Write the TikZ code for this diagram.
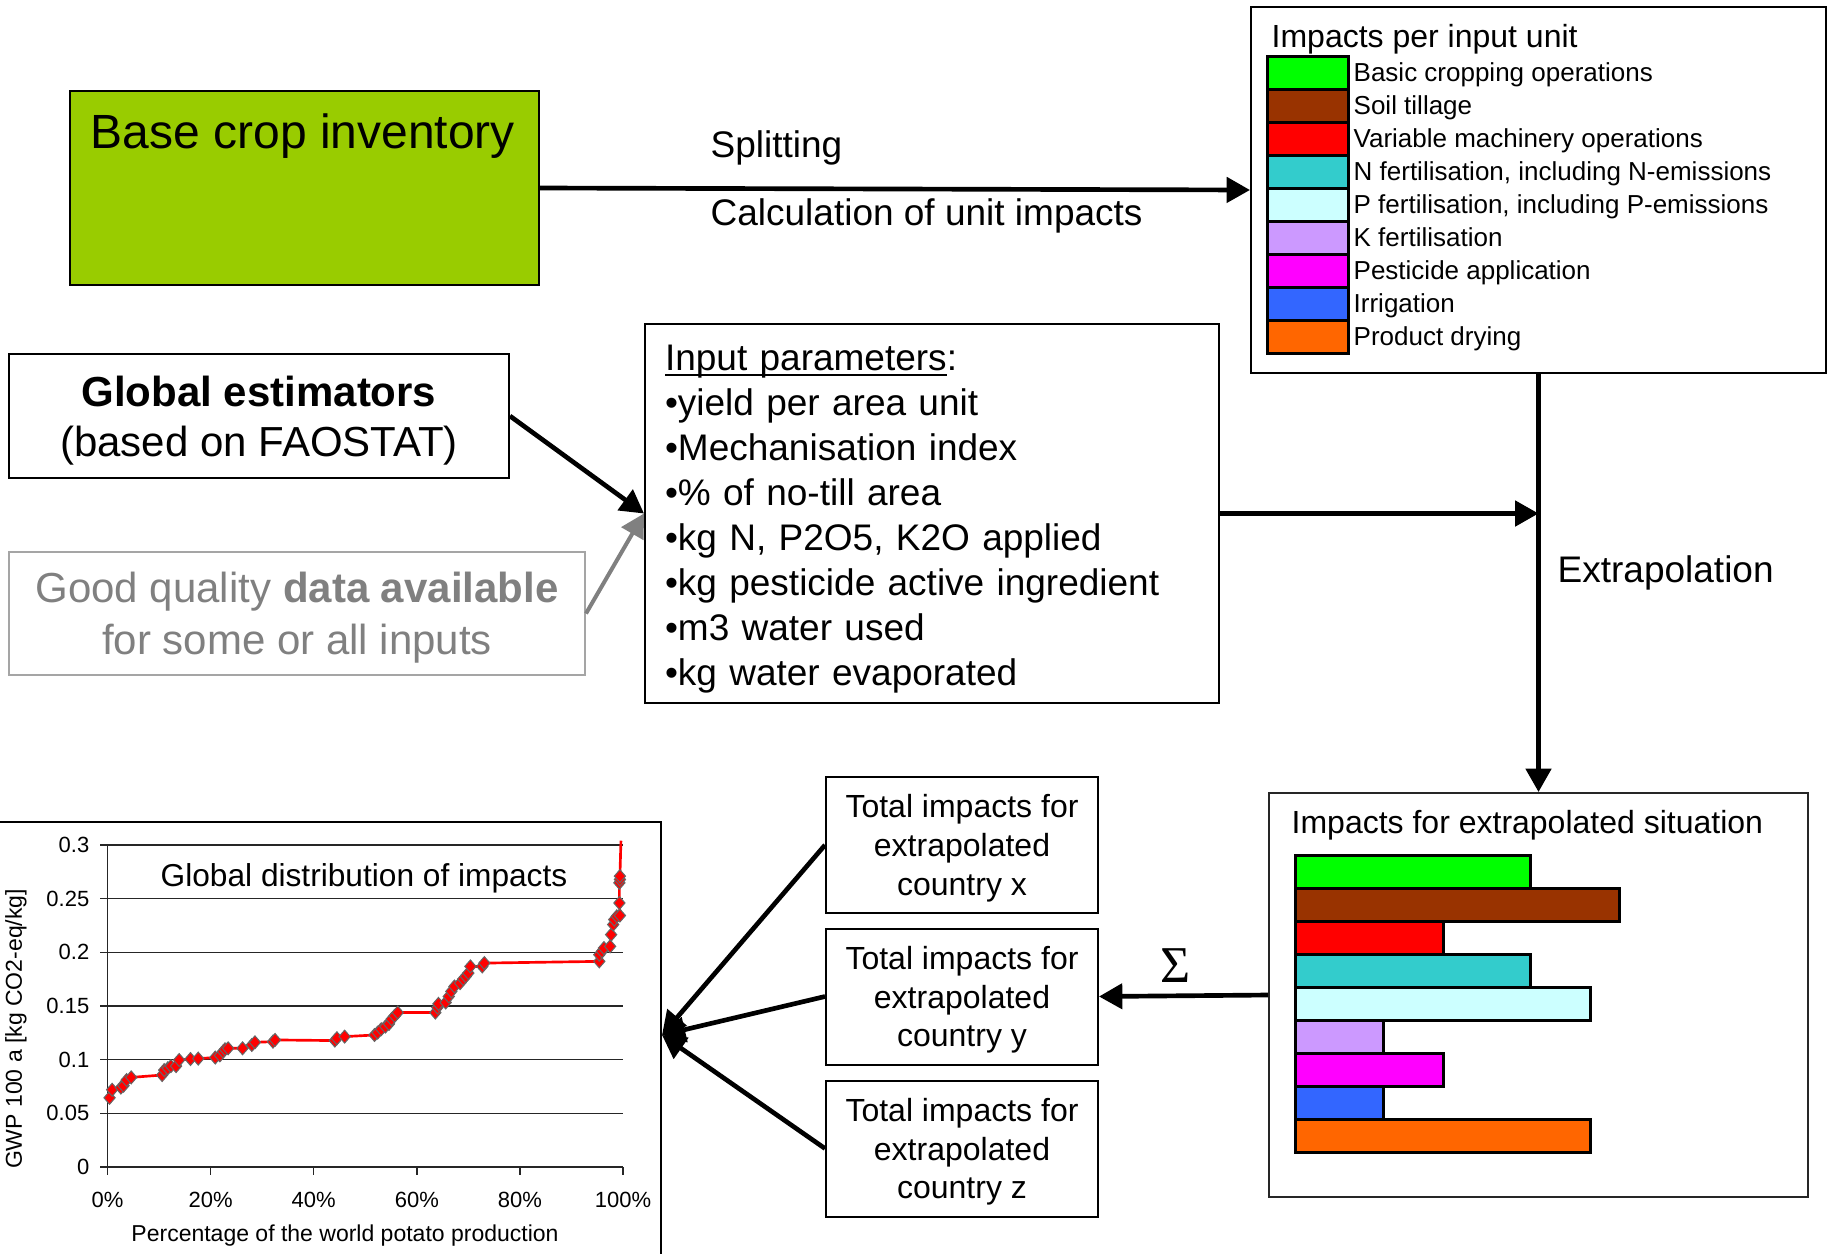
\documentclass[tikz,border=0pt]{standalone}
\usepackage{fontspec}
\setmainfont{Liberation Sans}
\newfontfamily\sigmafont{Liberation Serif}
\usepackage{xcolor}
\usetikzlibrary{arrows.meta,shapes.geometric}

\definecolor{cropgreen}{RGB}{153,204,0}
\definecolor{opbasic}{RGB}{0,255,0}
\definecolor{optill}{RGB}{153,51,0}
\definecolor{opmach}{RGB}{255,0,0}
\definecolor{opnfert}{RGB}{51,204,204}
\definecolor{oppfert}{RGB}{204,255,255}
\definecolor{opkfert}{RGB}{204,153,255}
\definecolor{oppest}{RGB}{255,0,255}
\definecolor{opirr}{RGB}{51,102,255}
\definecolor{opdry}{RGB}{255,102,0}
\definecolor{faded}{RGB}{128,128,128}
\definecolor{fadedline}{RGB}{165,165,165}

% GWP points: share of production (%) / value (0.01 kg CO2-eq/kg)
\newcommand{\gwppoints}{0.4/6.45, 0.9/7.2, 2.6/7.4, 3.1/7.57, 3.7/8.1, 4.6/8.35,
  10.6/8.57, 11.0/9.03, 11.7/9.2, 12.3/9.4, 13.3/9.4, 13.9/9.97, 16.1/10.06,
  17.6/10.1, 20.9/10.2, 21.8/10.4, 22.4/10.75, 22.8/10.97, 23.4/11.06, 26.2/11.06,
  28.0/11.37, 28.6/11.62, 32.1/11.68, 32.5/11.84, 44.1/11.78, 44.5/12.0, 46.0/12.15,
  51.8/12.3, 52.4/12.52, 53.1/12.84, 53.9/13.08, 54.6/13.33, 55.1/13.77, 55.7/14.08,
  56.3/14.39, 63.6/14.39, 64.0/14.86, 64.2/15.2, 65.6/15.33, 66.2/15.89, 66.7/16.36,
  67.3/16.82, 68.4/17.13, 69.0/17.51, 69.5/17.76, 70.0/18.07, 70.4/18.69, 72.7/18.69,
  73.1/19.0, 95.4/19.16, 95.4/19.78, 95.9/20.09, 96.3/20.4, 97.5/20.56, 97.7/21.65,
  98.1/22.59, 98.3/23.05, 98.8/23.36, 99.4/23.43, 99.3/24.6, 99.3/26.48, 99.4/26.79,
  99.4/27.1}

\begin{document}
\begin{tikzpicture}[x=0.3pt,y=0.3pt,yscale=-1,xscale=1,
    box/.style={draw, line width=0.6pt, inner sep=0pt, align=center},
    totbox/.style={box, minimum width=81.6pt, minimum height=40.8pt, text depth=0pt, font=\fontsize{9.6}{11.6}\selectfont},
    flow/.style={line width=1.4pt, -{Triangle[length=7pt,width=7.5pt]}},
    swatch/.style={draw, line width=0.9pt, inner sep=0pt, minimum width=24.3pt, minimum height=9.9pt},
    legtext/.style={anchor=mid west, inner sep=0pt, font=\fontsize{7.8}{9}\selectfont},
    bar/.style={draw, line width=0.9pt},
    gwpgrid/.style={black!85, line width=0.45pt},
    ptmark/.style={diamond, draw=black!60, fill=red, line width=0.3pt, inner sep=0pt, minimum width=3.5pt, minimum height=4pt},
    ticklab/.style={inner sep=0pt, font=\fontsize{6.6}{7}\selectfont}
  ]
\useasboundingbox (0,0) rectangle (1833,1253);

%Shape: Rectangle
\node [box, fill=cropgreen, minimum width=140.7pt, minimum height=58.2pt] (base) at (304.5,188) {};
% Text Node
\draw (90,148) node [anchor=base west][inner sep=0pt] [font=\fontsize{14.4}{16}\selectfont] (basetxt) {Base crop inventory};

%Shape: Rectangle
\node [box, minimum width=172.5pt, minimum height=109.8pt] (unitimp) at (1538.5,190) {};
% Text Node
\draw (1271,47) node [anchor=base west][inner sep=0pt] [font=\fontsize{9.6}{11}\selectfont] (unittitle) {Impacts per input unit};
\foreach \c/\t [count=\i] in {opbasic/Basic cropping operations, optill/Soil tillage,
    opmach/Variable machinery operations, opnfert/{N fertilisation, including N-emissions},
    oppfert/{P fertilisation, including P-emissions}, opkfert/K fertilisation,
    oppest/Pesticide application, opirr/Irrigation, opdry/Product drying}
{
  \node [swatch, fill=\c] (sw\i) at (1307.5,{72.5+33*(\i-1)}) {};
  \node [legtext] (lg\i) at (1353,{73+33*(\i-1)}) {\t};
}

%Shape: Rectangle
\node [box, minimum width=150pt, minimum height=37.2pt, text depth=0pt, font=\fontsize{12.6}{15}\selectfont] (glob) at (259,416)
  {\textbf{Global estimators}\\(based on FAOSTAT)};
%Shape: Rectangle
\node [box, draw=fadedline, text=faded, minimum width=172.8pt, minimum height=36.9pt, text depth=0pt, font=\fontsize{12.6}{15.6}\selectfont] (good) at (297,613.5)
  {Good quality \textbf{data available}\\for some or all inputs};

%Shape: Rectangle
\node [box, align=left, text width=160.2pt, minimum width=172.2pt, minimum height=113.7pt, text height=10.9pt, font=\fontsize{11.1}{13.5}\selectfont] (inp) at (932,513.5)
  {\underline{\smash{Input parameters}}:\\•yield per area unit\\•Mechanisation index\\•\% of no-till area\\•kg N, P2O5, K2O applied\\•kg pesticide active ingredient\\•m3 water used\\•kg water evaporated};

%Shape: Rectangle
\node [box, draw=black!85, minimum width=161.7pt, minimum height=121.2pt] (extra) at (1538.5,995) {};
% Text Node
\draw (1291,833) node [anchor=base west][inner sep=0pt] [font=\fontsize{9.6}{11}\selectfont] (extratitle) {Impacts for extrapolated situation};
\foreach \c/\r [count=\i] in {opbasic/1530, optill/1619, opmach/1443, opnfert/1530, oppfert/1590,
    opkfert/1383, oppest/1443, opirr/1383, opdry/1590}
  \draw [bar, fill=\c] (1295,{855+33*(\i-1)}) rectangle (\r,{855+33*\i});

%Shape: Rectangle
\node [totbox] (totx) at (962,845) {Total impacts for\\extrapolated\\country x};
\node [totbox] (toty) at (962,996.5) {Total impacts for\\extrapolated\\country y};
\node [totbox] (totz) at (962,1148.5) {Total impacts for\\extrapolated\\country z};

%Shape: Rectangle
\node [box, minimum width=198.6pt, minimum height=132.9pt] (chart) at (330,1043.5) {};
\coordinate (hub) at (662,1035);

% chart area
\begin{scope}[shift={(107.5,1167)}, xscale=5.155, yscale=-10.733]
  \foreach \v/\lab in {0/0, 5/0.05, 10/0.1, 15/0.15, 20/0.2, 25/0.25, 30/0.3}
  {
    \draw [gwpgrid] (-1.45,\v) -- (100,\v);
    \node [ticklab, anchor=east] (ylab\v) at (-3.4,\v) {\lab};
  }
  \draw [gwpgrid] (0,0) -- (0,30);
  \foreach \p in {0,20,...,100}
  {
    \draw [gwpgrid] (\p,0) -- (\p,-0.7);
    \node [ticklab] (xlab\p) at (\p,-3.07) {\p\%};
  }
  \draw [red, line width=0.8pt, line join=round] (0.4,6.45) \foreach \x/\y in \gwppoints {-- (\x,\y)} -- (99.6,30.4);
  \foreach \x/\y [count=\k] in \gwppoints
    \node [ptmark] (pt\k) at (\x,\y) {};
\end{scope}
% Text Node
\draw (364,886) node [anchor=base][inner sep=0pt] [font=\fontsize{9.5}{11}\selectfont] (charttitle) {Global distribution of impacts};
% Text Node
\draw (16,1029) node [rotate=90][inner sep=0pt] [font=\fontsize{6.9}{8}\selectfont] (ytitle) {GWP 100 a [kg CO2-eq/kg]};
% Text Node
\draw (345,1236) node [inner sep=0pt] [font=\fontsize{6.9}{8}\selectfont] (xtitle) {Percentage of the world potato production};

% Text Node
\draw (710,157) node [anchor=base west][inner sep=0pt] [font=\fontsize{11.1}{13}\selectfont] (split) {Splitting};
% Text Node
\draw (710,225) node [anchor=base west][inner sep=0pt] [font=\fontsize{11.1}{13}\selectfont] (calc) {Calculation of unit impacts};
% Text Node
\draw (1557,582) node [anchor=base west][inner sep=0pt] [font=\fontsize{11.1}{13}\selectfont] (extrap) {Extrapolation};
% Text Node
\draw (1176,966) node [inner sep=0pt] [font=\fontsize{15.5}{16}\sigmafont] (sum) {Σ};

%Straight Lines
\draw [flow] (base.east) -- (unitimp.west);
\draw [flow] (glob.east) -- (inp.west);
\draw [flow, faded, line width=1.2pt] (good.east) -- (inp.west);
\draw [flow] (inp.east) -- (inp.east -| unitimp.south);
\draw [flow] (unitimp.south) -- (extra.north);
\draw [flow] (extra.west) -- (toty.east);
\foreach \t in {totx,toty,totz}
  \draw [flow] (\t.west) -- (hub);

\end{tikzpicture}
\end{document}
